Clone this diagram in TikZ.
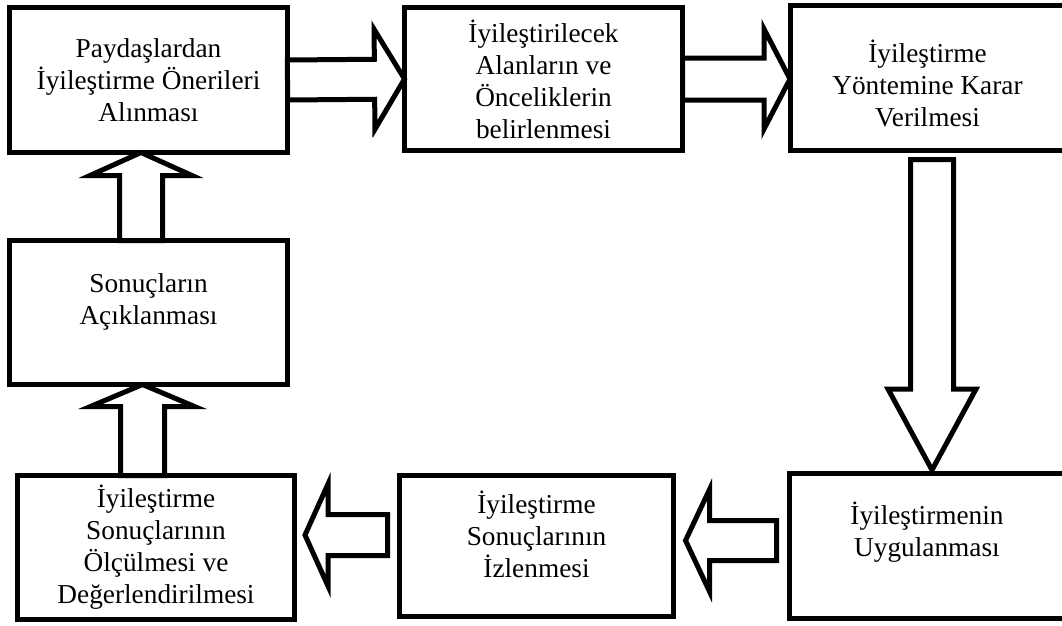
\documentclass[tikz,border=0pt]{standalone}
\usepackage{fontspec}
\setmainfont{Liberation Serif}
\usetikzlibrary{calc}

% hollow block arrow: from, to, half shaft, half head, head length
\newcommand{\blockarrow}[5]{%
  \coordinate (hb) at ($(#2)!#5!(#1)$);
  \draw[barrow] ($(#1)!#3!90:(#2)$) -- ($(hb)!#3!90:(#2)$) -- ($(hb)!#4!90:(#2)$) -- (#2)
    -- ($(hb)!#4!-90:(#2)$) -- ($(hb)!#3!-90:(#2)$) -- ($(#1)!#3!-90:(#2)$) -- cycle;
}
% invisible strut, shifts the text of a box up (depth) or down (height)
\newcommand{\lowpad}[1]{\rule[-#1]{0pt}{0pt}}
\newcommand{\highpad}[1]{\rule{0pt}{#1}}

\begin{document}
\begin{tikzpicture}[
    x=1pt, y=-1pt,
    box/.style={rectangle, draw, line width=5pt, outer sep=0pt, align=center,
      font=\fontsize{27.3}{32}\selectfont},
    barrow/.style={draw, fill=white, line width=5pt, line join=miter}
  ]
    \useasboundingbox (0,0) rectangle (1062,625);

    % Boxes
    \node[box, minimum width=278, minimum height=145] (paydas) at (148.5,80) {Paydaşlardan\\İyileştirme Önerileri\\Alınması};
    \node[box, minimum width=278, minimum height=143] (alanlar) at (543.5,79) {İyileştirilecek\\Alanların ve\\Önceliklerin\\belirlenmesi};
    \node[box, minimum width=275, minimum height=145] (yontem) at (927.5,77.5) {\highpad{34pt}İyileştirme\\Yöntemine Karar\\Verilmesi};
    \node[box, minimum width=278, minimum height=144] (aciklama) at (148.5,312.5) {Sonuçların\\Açıklanması\lowpad{27pt}};
    \node[box, minimum width=277, minimum height=144] (olcum) at (156,547.5) {İyileştirme\\Sonuçlarının\\Ölçülmesi ve\\Değerlendirilmesi};
    \node[box, minimum width=274, minimum height=141] (izleme) at (536.5,546) {İyileştirme\\Sonuçlarının\\İzlenmesi\lowpad{23pt}};
    \node[box, minimum width=275, minimum height=145] (uygulama) at (927,546) {İyileştirmenin\\Uygulanması\lowpad{33pt}};

    % Arrow ends
    \coordinate (t2) at ([yshift=-1.5pt]yontem.west);
    \coordinate (s3) at ([xshift=4.5pt,yshift=-9.5pt]yontem.south);
    \coordinate (t3) at ([xshift=5pt,yshift=3.5pt]uygulama.north);
    \coordinate (s4) at ([xshift=-13pt,yshift=5.5pt]uygulama.west);
    \coordinate (t4) at ([xshift=12pt,yshift=5.5pt]izleme.east);
    \coordinate (s5) at ([xshift=-12pt,yshift=11pt]izleme.west);
    \coordinate (t5) at ([xshift=10.5pt,yshift=12.5pt]olcum.east);
    \coordinate (s6) at ([xshift=-13.5pt]olcum.north);
    \coordinate (t6) at ([xshift=-6pt]aciklama.south);
    \coordinate (s7) at ([xshift=-7.5pt]aciklama.north);
    \coordinate (t7) at ([xshift=-7.5pt]paydas.south);

    % Arrows
    \blockarrow{paydas.east}{alanlar.west}{20pt}{50pt}{30pt}
    \blockarrow{alanlar.east}{t2}{21pt}{50pt}{26pt}
    \blockarrow{s3}{t3}{21.5pt}{44pt}{81pt}
    \blockarrow{s4}{t4}{20pt}{51pt}{24pt}
    \blockarrow{s5}{t5}{20.5pt}{51pt}{23pt}
    \blockarrow{s6}{t6}{22pt}{52pt}{22pt}
    \blockarrow{s7}{t7}{21.5pt}{51pt}{23pt}
  \end{tikzpicture}
\end{document}
